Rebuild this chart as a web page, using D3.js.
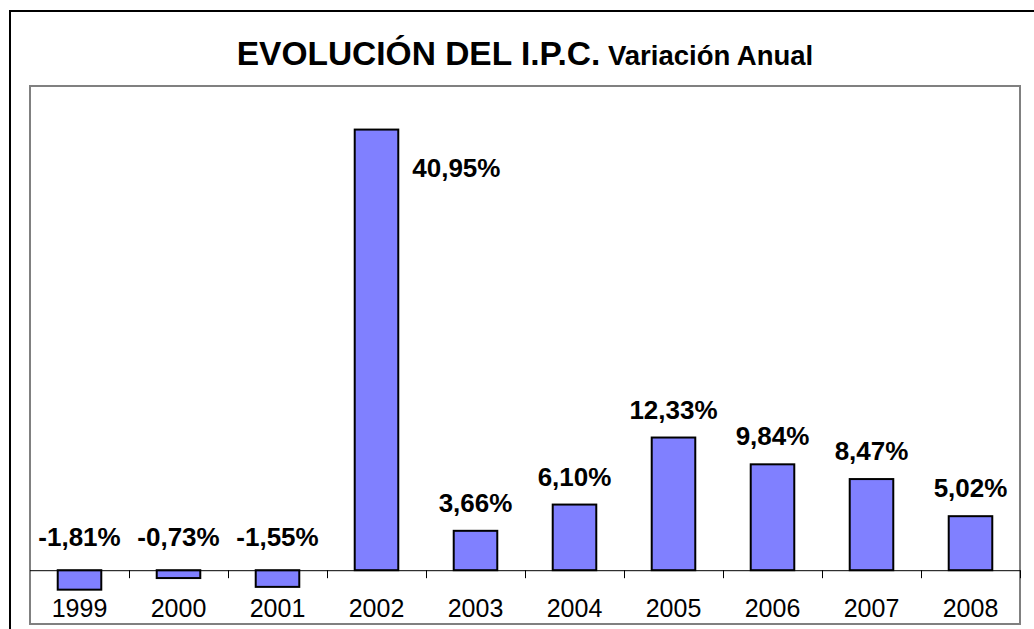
<!DOCTYPE html>
<html>
<head>
<meta charset="utf-8">
<script src="https://cdn.jsdelivr.net/npm/d3@7"></script>
<style>
  html, body { margin: 0; padding: 0; background: #fff; }
  svg { display: block; font-family: "Liberation Sans", Arial, sans-serif; }
</style>
</head>
<body>
<svg id="chart" width="1034" height="629"></svg>
<script>
const years = ["1999", "2000", "2001", "2002", "2003", "2004", "2005", "2006", "2007", "2008"];
const values = [-1.81, -0.73, -1.55, 40.95, 3.66, 6.10, 12.33, 9.84, 8.47, 5.02];
const valueLabels = ["-1,81%", "-0,73%", "-1,55%", "40,95%", "3,66%", "6,10%", "12,33%", "9,84%", "8,47%", "5,02%"];
const titleMain = "EVOLUCIÓN DEL I.P.C.";
const titleSub = " Variación Anual";
const yDomain = [-5, 45];

const data = years.map((y, i) => ({ year: y, value: values[i], label: valueLabels[i] }));

const svg = d3.select("#chart");
const W = 1034, H = 629;
const plot = { left: 30, right: 1020, top: 86, bottom: 624 };

// outer chart border
svg.append("rect")
  .attr("x", 10).attr("y", 11)
  .attr("width", W + 20).attr("height", H + 20)
  .attr("fill", "#fff").attr("stroke", "#000").attr("stroke-width", 2);

// plot area border
svg.append("rect")
  .attr("x", plot.left).attr("y", plot.top)
  .attr("width", plot.right - plot.left).attr("height", plot.bottom - plot.top)
  .attr("fill", "#fff").attr("stroke", "#808080").attr("stroke-width", 2);

const x = d3.scaleBand().domain(years).range([plot.left, plot.right]).padding(0);
const y = d3.scaleLinear().domain(yDomain).range([plot.bottom, plot.top]);
const barW = x.bandwidth() * 0.44;

// title
const title = svg.append("text")
  .attr("x", (plot.left + plot.right) / 2)
  .attr("y", 65)
  .attr("text-anchor", "middle")
  .attr("font-weight", "bold")
  .attr("fill", "#000");
title.append("tspan").attr("font-size", 33.5).text(titleMain);
title.append("tspan").attr("font-size", 27.5).text(titleSub);

// bars
svg.append("g").selectAll("rect")
  .data(data).join("rect")
  .attr("x", d => x(d.year) + (x.bandwidth() - barW) / 2)
  .attr("width", barW)
  .attr("y", d => y(Math.max(0, d.value)))
  .attr("height", d => Math.abs(y(d.value) - y(0)))
  .attr("fill", "#8080FF")
  .attr("stroke", "#000")
  .attr("stroke-width", 2);

// zero axis with category labels
const axis = d3.axisBottom(x).tickSize(0).tickFormat(d => d).tickPadding(0);
const axisG = svg.append("g")
  .attr("transform", `translate(0,${y(0)})`)
  .call(axis);
axisG.select(".domain").attr("stroke", "#000").attr("stroke-width", 1)
  .attr("d", `M${plot.left},0.5H${plot.right}`);
axisG.selectAll(".tick text")
  .attr("font-family", "Liberation Sans, Arial, sans-serif")
  .attr("font-size", 25)
  .attr("fill", "#000")
  .attr("dy", null)
  .attr("y", 47);

// boundary ticks
const bounds = years.map(d => x(d)).concat([x(years[years.length - 1]) + x.bandwidth()]);
svg.append("g").selectAll("line")
  .data(bounds.slice(1)).join("line")
  .attr("x1", d => Math.round(d) + 0.5).attr("x2", d => Math.round(d) + 0.5)
  .attr("y1", y(0)).attr("y2", y(0) + 8)
  .attr("stroke", "#000").attr("stroke-width", 1);

// value labels
svg.append("g").selectAll("text")
  .data(data).join("text")
  .attr("font-size", 26)
  .attr("font-weight", "bold")
  .attr("fill", "#000")
  .attr("text-anchor", d => d.value > 30 ? "start" : "middle")
  .attr("x", d => d.value > 30
      ? x(d.year) + (x.bandwidth() + barW) / 2 + 14
      : x(d.year) + x.bandwidth() / 2)
  .attr("y", d => d.value < 0 ? y(0) - 24
      : d.value > 30 ? y(d.value) + 47
      : y(d.value) - 19)
  .text(d => d.label);
</script>
</body>
</html>
